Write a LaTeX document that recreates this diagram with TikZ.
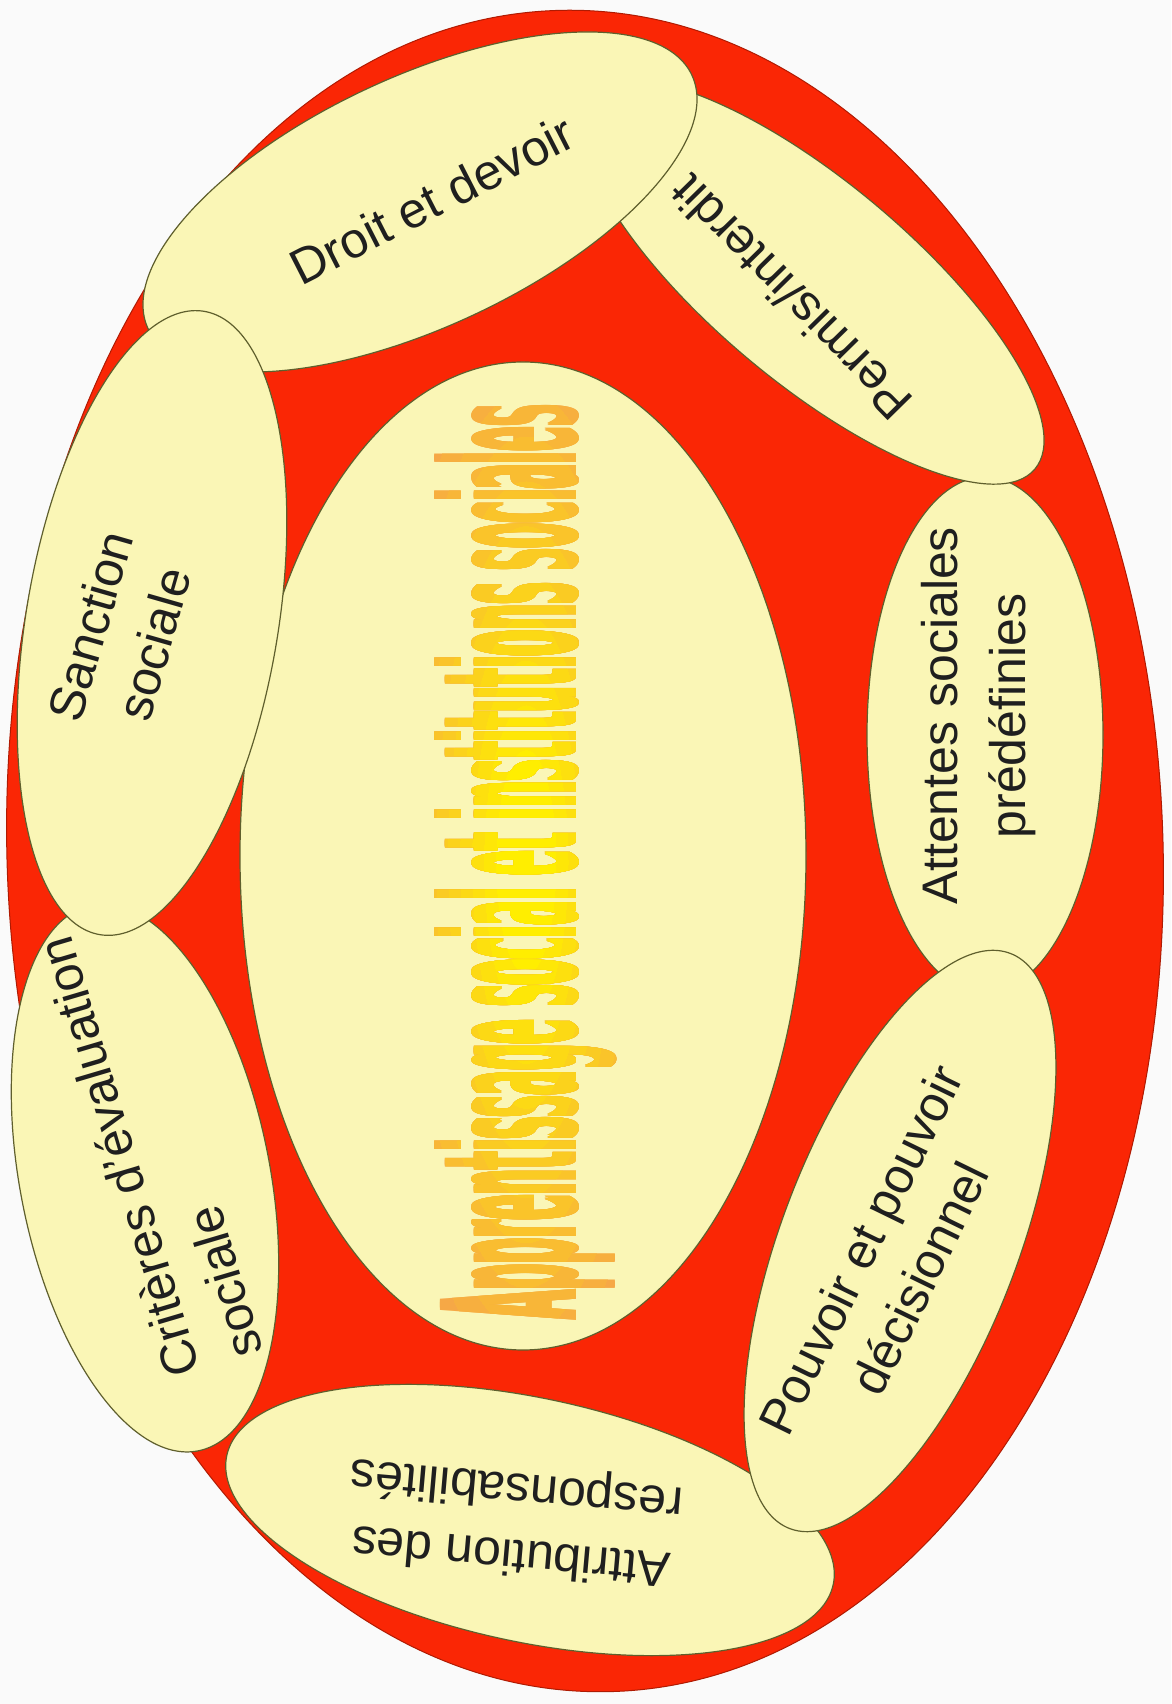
\documentclass[tikz,border=0pt]{standalone}
\usepackage{fontspec}
\setmainfont{Liberation Sans}
\newfontfamily\wafont{DejaVu Sans}
\usepackage{graphicx}
\usetikzlibrary{shapes.geometric}
\definecolor{bg}{RGB}{250,250,250}
\definecolor{ringred}{RGB}{250,38,5}
\definecolor{paleyellow}{RGB}{250,246,182}
\definecolor{edgeolive}{RGB}{95,95,45}
\definecolor{waorange}{RGB}{246,168,70}
\definecolor{wayellow}{RGB}{255,238,0}
\newcommand{\wordarttext}{\resizebox*{914pt}{182pt}{\wafont\bfseries Apprentissage social et institutions sociales}}

\begin{document}
\begin{tikzpicture}[x=1pt,y=1pt,
  blob/.style={ellipse, draw=edgeolive, line width=1.2pt, fill=paleyellow, inner sep=0pt},
  lbl/.style={font=\fontsize{50}{66}\selectfont, align=center, text=black!88, inner sep=0pt},
  wa/.style={inner sep=0pt, rotate=90}]
\fill[bg] (0,0) rectangle (1171,1704);
\useasboundingbox (0,0) rectangle (1171,1704);

\node[ellipse, fill=ringred, draw=ringred!70!black, line width=1pt, minimum width=1156pt, minimum height=1682pt, rotate=2, inner sep=0pt] (outer) at (585,853) {};

\node[blob, minimum width=566pt, minimum height=988pt] (core) at (523,848) {};
\coordinate (wac) at (526,842);
\foreach \d [count=\m] in {-1.1,0,1.1} {
  \node[wa, text=waorange] (wa0-\m) at ([yshift=\d pt]wac) {\wordarttext};
}
\foreach \k [count=\n] in {0.92,0.84,0.76,0.68,0.60,0.52,0.44,0.36,0.28,0.20,0.12} {
  \pgfmathsetmacro{\mixval}{min(100,100*(1-\k)/0.8)}
  \begin{scope}
    \clip (wac) ellipse [x radius=\k*150pt, y radius=\k*560pt];
    \foreach \d [count=\m] in {-1.1,0,1.1} {
      \node[wa, text=wayellow!\mixval!waorange] (wa\n-\m) at ([yshift=\d pt]wac) {\wordarttext};
    }
  \end{scope}
}

\node[blob, minimum width=516pt, minimum height=236pt, rotate=90] (attentes) at (985,969) {};
\node[lbl, font=\fontsize{50}{68}\selectfont, rotate=90] (attentest) at (979,988) {Attentes sociales\\prédéfinies};

\node[blob, minimum width=582pt, minimum height=200pt, rotate=-40] (permis) at (812,1422) {};
\node[lbl, rotate=134.5] (permist) at (791,1406) {Permis/interdit};

\node[blob, minimum width=600pt, minimum height=250pt, rotate=25] (droit) at (420,1502) {};
\node[lbl, rotate=27] (droitt) at (432,1504) {Droit et devoir};

\node[blob, minimum width=556pt, minimum height=250pt, rotate=101] (criteres) at (145,526) {};
\node[lbl, align=left, rotate=106.5] (criterest) at (150,556) {Critères d’évaluation\\sociale};

\node[blob, minimum width=620pt, minimum height=244pt, rotate=-12] (attribution) at (530,184) {};
\node[lbl, rotate=175] (attributiont) at (514,184) {Attribution des\\responsabilités};

\node[blob, minimum width=616pt, minimum height=236pt, rotate=69] (pouvoir) at (900,463) {};
\node[lbl, rotate=64] (pouvoirt) at (890,440) {Pouvoir et pouvoir\\décisionnel};

\node[blob, minimum width=632pt, minimum height=252pt, rotate=80.5] (sanction) at (152,1081) {};
\node[lbl, rotate=74] (sanctiont) at (122,1069) {Sanction\\sociale};
\end{tikzpicture}
\end{document}
